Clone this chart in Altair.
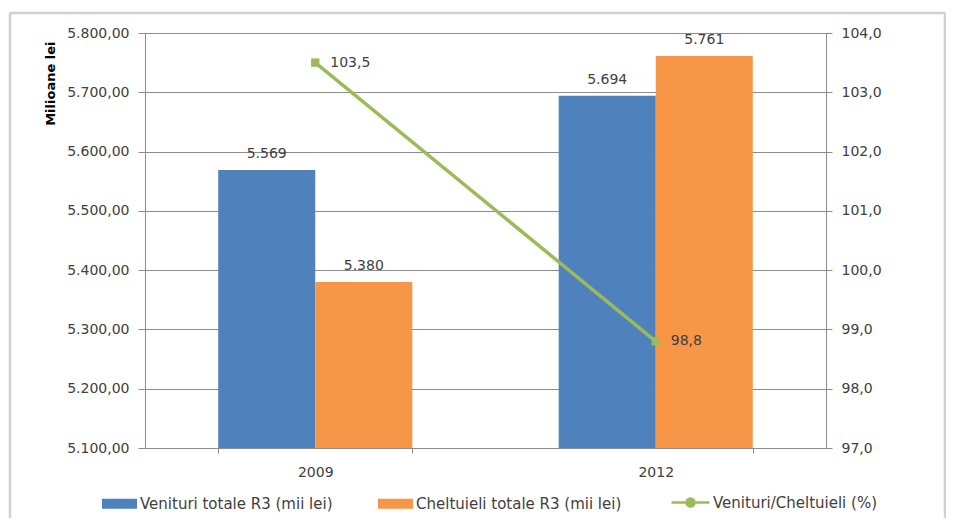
import altair as alt
import pandas as pd

# ---- data ----
years = ["2009", "2012"]
bar_series = ["Venituri totale R3 (mii lei)", "Cheltuieli totale R3 (mii lei)"]
venituri = [5569, 5694]
cheltuieli = [5380, 5761]
ratio_series = "Venituri/Cheltuieli (%)"
ratio = [103.5, 98.8]
left_ticks = [5100, 5200, 5300, 5400, 5500, 5600, 5700, 5800]
right_ticks = [97, 98, 99, 100, 101, 102, 103, 104]

BLUE = "#4F81BD"
ORANGE = "#F79646"
GREEN = "#9BBB59"
GRID = "#8C8C8C"
TEXT = "#404040"
FONT = "DejaVu Sans"

bars_df = pd.DataFrame({
    "an": years + years,
    "serie": [bar_series[0]] * len(years) + [bar_series[1]] * len(years),
    "valoare": venituri + cheltuieli,
})
ratio_df = pd.DataFrame({
    "an": years,
    "serie": [ratio_series] * len(years),
    "raport": ratio,
})

x_enc = alt.X(
    "an:N", sort=years,
    scale=alt.Scale(paddingInner=0.43, paddingOuter=0.215),
    axis=alt.Axis(title=None, labelAngle=0, labelPadding=12, tickBand="extent",
                  tickSize=5, domainColor=GRID, tickColor=GRID,
                  labelFont=FONT, labelFontSize=14, labelColor=TEXT),
)

y_left = alt.Y(
    "valoare:Q",
    scale=alt.Scale(domain=[5100, 5800], nice=False, zero=False),
    axis=alt.Axis(values=left_ticks, format=",.2f", title="Milioane lei",
                  titleAnchor="end", titleY=8, titleFont=FONT, titleFontSize=13,
                  titleFontWeight="bold", titleColor="#000000", titlePadding=9,
                  grid=True, gridColor=GRID, gridWidth=1,
                  domainColor=GRID, tickColor=GRID, tickSize=7, labelPadding=9,
                  labelFont=FONT, labelFontSize=14, labelColor=TEXT),
)

y_right = alt.Y(
    "raport:Q",
    scale=alt.Scale(domain=[97, 104], nice=False, zero=False),
    axis=alt.Axis(orient="right", values=right_ticks, format=".1f", title=None,
                  grid=False, domainColor=GRID, tickColor=GRID, tickSize=6,
                  labelPadding=9, labelFont=FONT, labelFontSize=14, labelColor=TEXT),
)

base_bar = alt.Chart(bars_df).encode(
    x=x_enc,
    xOffset=alt.XOffset("serie:N", sort=bar_series,
                        scale=alt.Scale(paddingInner=0, paddingOuter=0)),
    y=y_left,
)

bars = base_bar.mark_bar(clip=True).encode(
    color=alt.Color(
        "serie:N", sort=bar_series,
        scale=alt.Scale(domain=bar_series, range=[BLUE, ORANGE]),
        legend=alt.Legend(title=None, orient="none", legendX=-43, legendY=453,
                          direction="horizontal",
                          symbolType="M-1,-0.286H1V0.286H-1Z", symbolSize=1225,
                          symbolStrokeWidth=0, labelFont=FONT, labelFontSize=15,
                          labelColor=TEXT, columnPadding=45, labelOffset=3,
                          labelLimit=400),
    )
)
bar_labels = base_bar.mark_text(dy=-9, baseline="bottom", font=FONT,
                                fontSize=14, color=TEXT).encode(
    text=alt.Text("valoare:Q", format=",.0f")
)

base_line = alt.Chart(ratio_df).encode(x=alt.X("an:N", sort=years), y=y_right)
line = base_line.mark_line(strokeWidth=3.5).encode(
    color=alt.Color(
        "serie:N",
        scale=alt.Scale(domain=[ratio_series], range=[GREEN]),
        legend=alt.Legend(title=None, orient="none", legendX=525, legendY=449,
                          symbolType="M-1,0H1M-0.21,0A0.21,0.21 0 1,1 0.21,0A0.21,0.21 0 1,1 -0.21,0Z",
                          symbolSize=1444, symbolStrokeWidth=2.5,
                          symbolFillColor=GREEN, labelFont=FONT, labelFontSize=15,
                          labelColor=TEXT, labelOffset=2, labelLimit=400),
    )
)
points = base_line.mark_point(shape="square", filled=True, size=70, opacity=1,
                              color=GREEN)
line_labels = base_line.mark_text(align="left", dx=15, baseline="middle",
                                  font=FONT, fontSize=14, color=TEXT).encode(
    text=alt.Text("raport:Q", format=".1f")
)

frame_df = pd.DataFrame({"k": [0]})
frame_left = alt.Chart(frame_df).mark_rule(color="#D0D0D0", strokeWidth=2.5).encode(
    x=alt.value(-135), y=alt.value(-20), y2=alt.value(600))
frame_top = alt.Chart(frame_df).mark_rule(color="#D0D0D0", strokeWidth=2.5).encode(
    x=alt.value(-135), x2=alt.value(800), y=alt.value(-20))
frame_right = alt.Chart(frame_df).mark_rule(color="#D0D0D0", strokeWidth=2.5).encode(
    x=alt.value(800), y=alt.value(-20), y2=alt.value(600))

chart = alt.layer(
    frame_left, frame_top, frame_right,
    alt.layer(bars, bar_labels),
    alt.layer(line, points, line_labels),
).resolve_scale(
    y="independent", color="independent"
).properties(
    width=681, height=415,
    autosize=alt.AutoSizeParams(type="none"),
    padding={"left": 137, "top": 25, "right": 120, "bottom": 70},
).configure(
    locale={"number": {"decimal": ",", "thousands": ".", "grouping": [3],
                       "currency": ["", " lei"]}},
    background="white",
).configure_view(stroke=None)

chart.save("out.html", embed_options={"renderer": "svg", "actions": False})
